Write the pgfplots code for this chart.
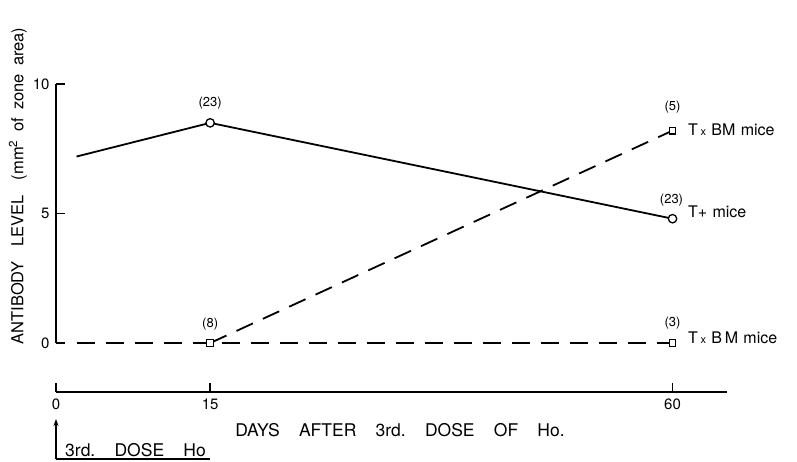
\documentclass[border=0pt]{standalone}
\usepackage{fontspec}
\setmainfont{TeX Gyre Heros}
\usepackage{pgfplots}
\pgfplotsset{compat=1.18}
\usetikzlibrary{arrows.meta}
\begin{document}
\begin{tikzpicture}
\useasboundingbox (-56pt,-69pt) rectangle (741pt,392pt);
\begin{axis}[at={(0pt,0pt)}, anchor=south west, scale only axis,
  width=671pt, height=308pt,
  xmin=0, xmax=65.3, ymin=-1.89, ymax=10,
  axis x line=bottom, axis y line=left,
  axis line style={-, line width=1.5pt},
  y axis line style={draw=none},
  xtick={0,15,60}, ytick={0,5,10},
  tick align=inside, major tick length=9pt,
  tick style={line width=1.5pt, black},
  /pgf/number format/assume math mode=true,
  ticklabel style={font=\fontsize{15}{15}\selectfont},
  xticklabel style={yshift=-3pt},
  yticklabel style={xshift=-3pt},
  clip=false]
\draw[line width=1.5pt] (axis cs:0,0) -- (axis cs:0,10);
\addplot[black, line width=1.8pt, dash pattern=on 18pt off 11pt, mark=square*, mark size=3.3pt, mark indices={2},
  mark options={solid, fill=white, line width=1.3pt}] coordinates {(15,0)(60,8.2)};
\addplot[black, line width=1.8pt, dash pattern=on 18pt off 11pt, mark=square*, mark size=3.3pt, mark indices={2,3},
  mark options={solid, fill=white, line width=1.3pt}] coordinates {(2,0)(15,0)(60,0)};
\addplot[black, line width=1.8pt, mark=*, mark size=4.2pt, mark indices={2,3},
  mark options={solid, fill=white, line width=1.3pt}] coordinates {(2,7.2)(15,8.5)(60,4.8)};
\node[font=\fontsize{13}{13}\selectfont] at (axis cs:15,9.27) {(23)};
\node[font=\fontsize{13}{13}\selectfont] at (axis cs:15,0.72) {(8)};
\node[font=\fontsize{13}{13}\selectfont] at (axis cs:60,9.11) {(5)};
\node[font=\fontsize{13}{13}\selectfont] at (axis cs:59.9,5.52) {(23)};
\node[font=\fontsize{13}{13}\selectfont] at (axis cs:60,0.77) {(3)};
\node[anchor=west, inner sep=0pt, font=\fontsize{16}{16}\selectfont] at (axis cs:61.5,8.22) {T\,{\fontsize{11}{11}\selectfont x}\,\,BM\,\,mice};
\node[anchor=west, inner sep=0pt, font=\fontsize{16}{16}\selectfont] at (axis cs:61.5,5.06) {T+\,\,mice};
\node[anchor=west, inner sep=0pt, font=\fontsize{16}{16}\selectfont] at (axis cs:61.5,0.19) {T\,{\fontsize{11}{11}\selectfont x}\,\,B\,M\,\,mice};
\end{axis}
\node[rotate=90, font=\fontsize{16.5}{16.5}\selectfont] at (-38pt,206pt) {ANTIBODY\hspace{0.9em}LEVEL\hspace{0.9em}(mm\textsuperscript{2}\hspace{0.5em}of\hspace{0.5em}zone\hspace{0.5em}area)};
\node[font=\fontsize{17.5}{17.5}\selectfont] at (344pt,-38pt) {DAYS\hspace{1.1em}AFTER\hspace{1.1em}3rd.\hspace{1.1em}DOSE\hspace{1.1em}OF\hspace{1.1em}Ho.};
\draw[-{Stealth[length=7pt,width=5pt]}, line width=1.5pt] (0pt,-67pt) -- (0pt,-27pt);
\draw[line width=1.5pt] (0pt,-67pt) -- (154pt,-67pt);
\node[anchor=base west, font=\fontsize{17.5}{17.5}\selectfont, inner sep=0pt] at (9pt,-64pt) {3rd.\hspace{1.1em}DOSE\hspace{1.1em}Ho};
\end{tikzpicture}
\end{document}
